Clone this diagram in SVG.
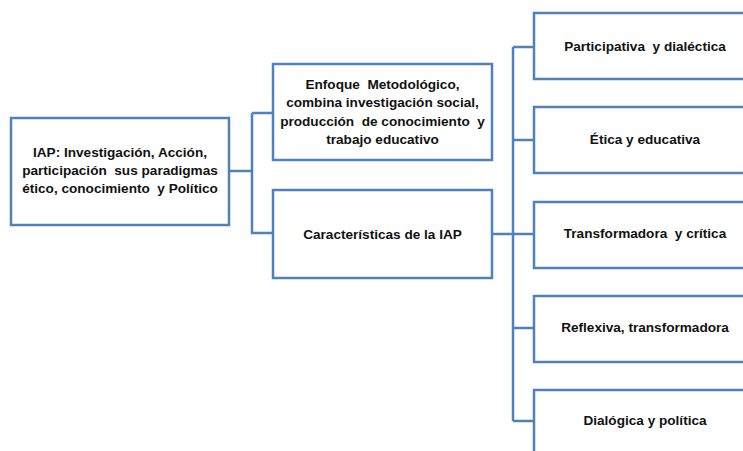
<svg xmlns="http://www.w3.org/2000/svg" width="743" height="451" viewBox="0 0 743 451">
<style>
.box{fill:#ffffff;stroke:#4f81bd;stroke-width:2.5}
.t{font-family:"Liberation Sans",Arial,sans-serif;font-weight:bold;font-size:13.6px;fill:#111111;text-anchor:middle;white-space:pre}
.c{fill:none;stroke:#4f81bd;stroke-width:2.5}
</style>
<rect width="743" height="451" fill="#ffffff"/>
<g id="connectors">
<path class="c" d="M229,171 H252 M252,113 V233 H273 M252,113 H273"/>
<path class="c" d="M492,234 H513 M513,47 V421 M513,47 H534 M513,140 H534 M513,234 H534 M513,328 H534 M513,421 H534"/>
</g>
<g id="n-iap">
<rect class="box" x="11" y="118" width="218" height="107"/>
<text class="t" x="120" y="157">IAP: Investigación, Acción,</text>
<text class="t" x="120" y="175">participación  sus paradigmas</text>
<text class="t" x="120" y="193">ético, conocimiento  y Político</text>
</g>
<g id="n-enfoque">
<rect class="box" x="273" y="64" width="219" height="96"/>
<text class="t" x="382.5" y="89">Enfoque  Metodológico,</text>
<text class="t" x="382.5" y="107">combina investigación social,</text>
<text class="t" x="382.5" y="126">producción  de conocimiento  y</text>
<text class="t" x="382.5" y="144">trabajo educativo</text>
</g>
<g id="n-caract">
<rect class="box" x="273" y="190" width="219" height="88"/>
<text class="t" x="382.5" y="239">Características de la IAP</text>
</g>
<g id="n-1">
<rect class="box" x="534" y="13" width="222" height="66"/>
<text class="t" x="645" y="51">Participativa  y dialéctica</text>
</g>
<g id="n-2">
<rect class="box" x="534" y="107" width="222" height="66"/>
<text class="t" x="645" y="144">Ética y educativa</text>
</g>
<g id="n-3">
<rect class="box" x="534" y="202" width="222" height="66"/>
<text class="t" x="645" y="238">Transformadora  y crítica</text>
</g>
<g id="n-4">
<rect class="box" x="534" y="296" width="222" height="66"/>
<text class="t" x="645" y="332">Reflexiva, transformadora</text>
</g>
<g id="n-5">
<rect class="box" x="534" y="390" width="222" height="66"/>
<text class="t" x="645" y="425">Dialógica y política</text>
</g>
</svg>
